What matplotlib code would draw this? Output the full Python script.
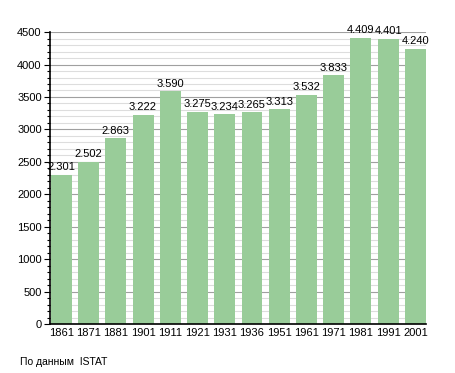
import matplotlib.pyplot as plt
from matplotlib.ticker import MultipleLocator

plt.rcParams['font.family'] = ['Liberation Sans', 'DejaVu Sans']

years = ['1861', '1871', '1881', '1901', '1911', '1921', '1931',
         '1936', '1951', '1961', '1971', '1981', '1991', '2001']
population = [2301, 2502, 2863, 3222, 3590, 3275, 3234,
              3265, 3313, 3532, 3833, 4409, 4401, 4240]

fig = plt.figure(figsize=(4.55, 3.73), dpi=100)
ax = fig.add_axes([0.11, 0.131, 0.826, 0.783])

pos = list(range(len(years)))
bw = 0.77
ax.bar(pos, population, width=bw, align='edge', color='#99cc99', zorder=2)

for x, v in zip(pos, population):
    lbl = '{:,}'.format(v).replace(',', '.')
    ax.text(x + bw / 2, v + 40, lbl, ha='center', va='bottom', fontsize=8, zorder=3)

ax.set_xlim(-0.03, len(years) - 1 + bw)
ax.set_ylim(0, 4500)
ax.yaxis.set_major_locator(MultipleLocator(500))
ax.yaxis.set_minor_locator(MultipleLocator(100))
ax.grid(which='major', axis='y', color='#a0a0a0', linewidth=0.8, zorder=0)
ax.grid(which='minor', axis='y', color='#dddddd', linewidth=0.8, zorder=0)

ax.set_xticks([p + bw / 2 for p in pos])
ax.set_xticklabels(years)
ax.tick_params(axis='x', length=0, labelsize=8, pad=3)
ax.tick_params(axis='y', which='major', length=4, width=0.8, labelsize=8, pad=2)
ax.tick_params(axis='y', which='minor', length=2, width=0.8)

for s in ['top', 'right']:
    ax.spines[s].set_visible(False)
for s in ['left', 'bottom']:
    ax.spines[s].set_linewidth(1.2)

fig.text(20 / 455, 1 - 362 / 373, 'По данным  ISTAT', fontsize=7.5, va='center', ha='left')

fig.savefig('out.png', dpi=100, facecolor='white')
